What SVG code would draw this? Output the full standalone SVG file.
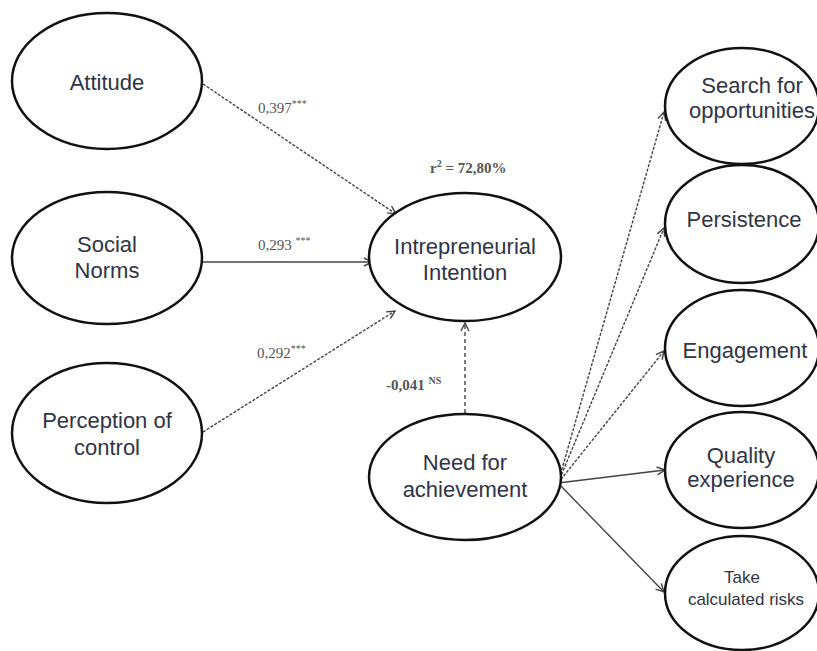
<svg xmlns="http://www.w3.org/2000/svg" width="817" height="651" viewBox="0 0 817 651">
<style>
.node ellipse{fill:#fff;stroke:#111;stroke-width:2.5}
.node text{font-family:"Liberation Sans",Arial,sans-serif;font-size:22px;fill:#2f3446;text-anchor:middle}
.node text.small{font-size:17px}
.edge{stroke:#444;stroke-width:1.4;fill:none;marker-end:url(#ah)}
.dash{stroke-dasharray:3 1.5}
.dash2{stroke-dasharray:4 3}
.lbl{font-family:"Liberation Serif","Times New Roman",serif;font-size:15px;fill:#555}
.b{font-weight:bold}
</style>
<defs>
<marker id="ah" markerWidth="10" markerHeight="10" refX="9" refY="5" orient="auto" markerUnits="userSpaceOnUse">
<path d="M1,1 L9,5 L1,9" fill="none" stroke="#444" stroke-width="1.4"/>
</marker>
</defs>
<rect width="817" height="651" fill="#fff"/>
<g id="connectors">
<line class="edge dash" x1="203" y1="84" x2="396" y2="214"/>
<line class="edge" x1="203" y1="262" x2="372" y2="262"/>
<line class="edge dash" x1="203" y1="432" x2="395" y2="311"/>
<line class="edge dash2" x1="465" y1="413" x2="465" y2="323"/>
<line class="edge dash" x1="558" y1="483" x2="664" y2="112"/>
<line class="edge dash" x1="558" y1="483" x2="664" y2="228"/>
<line class="edge dash" x1="558" y1="483" x2="664" y2="351"/>
<line class="edge" x1="558" y1="483" x2="665" y2="470"/>
<line class="edge" x1="558" y1="483" x2="664" y2="592"/>
<text class="lbl" x="258" y="113">0,397<tspan font-size="10" dy="-6">***</tspan></text>
<text class="lbl" x="258" y="250">0,293 <tspan font-size="10" dy="-6">***</tspan></text>
<text class="lbl" x="257" y="358">0,292<tspan font-size="10" dy="-6">***</tspan></text>
<text class="lbl b" x="386" y="390">-0,041 <tspan font-size="10" dy="-6">NS</tspan></text>
<text class="lbl b" x="430" y="173">r<tspan font-size="10" dy="-6">2</tspan><tspan dy="6"> = 72,80%</tspan></text>
</g>
<g id="attitude" class="node"><ellipse cx="107" cy="81" rx="95" ry="68"/><text x="107" y="90">Attitude</text></g>
<g id="social-norms" class="node"><ellipse cx="107" cy="258" rx="95" ry="66"/><text x="107" y="252">Social</text><text x="107" y="278">Norms</text></g>
<g id="perception" class="node"><ellipse cx="107" cy="433" rx="95" ry="70"/><text x="107" y="428">Perception of</text><text x="107" y="455">control</text></g>
<g id="intention" class="node"><ellipse cx="465" cy="257" rx="96" ry="64"/><text x="465" y="254">Intrepreneurial</text><text x="465" y="280">Intention</text></g>
<g id="need-achievement" class="node"><ellipse cx="465" cy="477" rx="96" ry="63"/><text x="465" y="470">Need for</text><text x="465" y="497">achievement</text></g>
<g id="search" class="node"><ellipse cx="742" cy="106" rx="77" ry="58"/><text x="752" y="93">Search for</text><text x="752" y="118">opportunities</text></g>
<g id="persistence" class="node"><ellipse cx="742" cy="224" rx="77" ry="59"/><text x="744" y="227">Persistence</text></g>
<g id="engagement" class="node"><ellipse cx="742" cy="348" rx="77" ry="58"/><text x="745" y="358">Engagement</text></g>
<g id="quality" class="node"><ellipse cx="742" cy="470" rx="77" ry="58"/><text x="741" y="463">Quality</text><text x="741" y="487">experience</text></g>
<g id="risks" class="node"><ellipse cx="742" cy="593" rx="77" ry="57"/><text class="small" x="742" y="583">Take</text><text class="small" x="746" y="605">calculated risks</text></g>
</svg>
